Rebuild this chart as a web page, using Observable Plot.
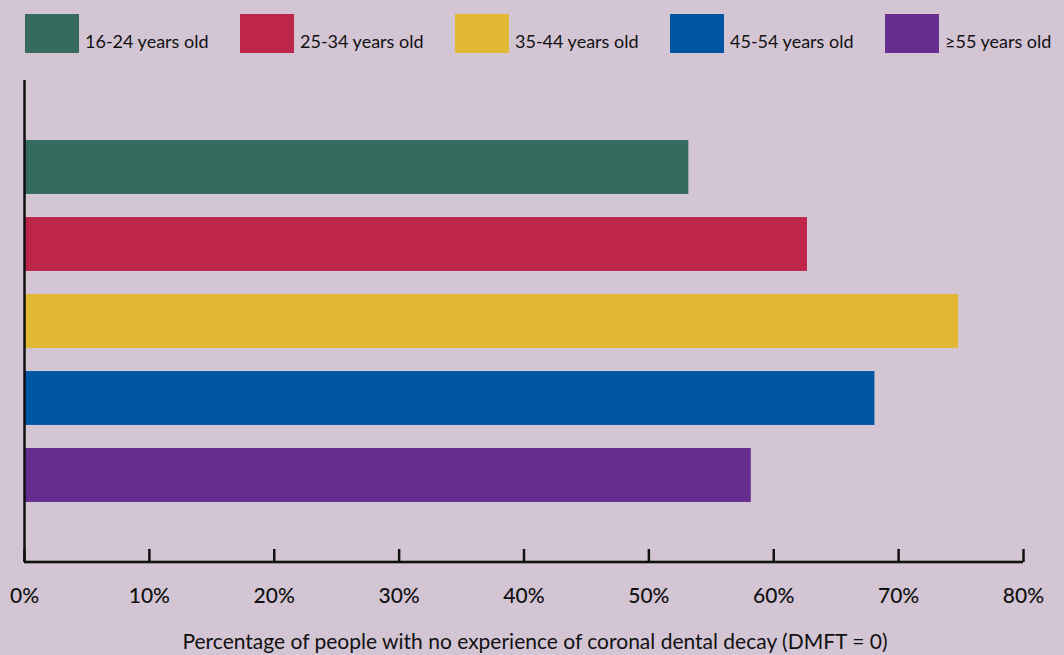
<!DOCTYPE html>
<html><head><meta charset="utf-8">
<script src="https://cdn.jsdelivr.net/npm/d3@7"></script>
<script src="https://cdn.jsdelivr.net/npm/@observablehq/plot@0.6"></script>
<style>
html,body{margin:0;padding:0;background:#d3c5d4;}
body{width:1064px;height:655px;overflow:hidden;font-family:Lato,"Open Sans",sans-serif;color:#111;}
#legend{height:66px;position:relative;}
.item{position:absolute;top:14px;display:flex;align-items:flex-end;white-space:nowrap;}
.sw{width:54px;height:39px;margin-right:6px;}
.lab{font-size:18px;line-height:1;padding-bottom:3px;}
#chart svg{display:block;}
</style></head><body>
<div id="legend"></div><div id="chart"></div>
<script>
const categories = ["16-24 years old", "25-34 years old", "35-44 years old", "45-54 years old", "≥55 years old"];
const values = [53.2, 62.7, 74.8, 68.1, 58.2];
const colors = ["#356a5e", "#bd254a", "#e1b833", "#0056a3", "#652d90"];
const tickValues = [0, 10, 20, 30, 40, 50, 60, 70, 80];
const axisTitle = "Percentage of people with no experience of coronal dental decay (DMFT = 0)";

const data = categories.map((c, i) => ({category: c, value: values[i]}));

const legend = document.getElementById("legend");
categories.forEach((c, i) => {
  const it = document.createElement("div");
  it.className = "item";
  it.style.left = (25 + i * 215) + "px";
  it.innerHTML = `<div class="sw" style="background:${colors[i]}"></div><div class="lab">${c}</div>`;
  legend.appendChild(it);
});

const plot = Plot.plot({
  width: 1064,
  height: 589,
  marginLeft: 24,
  marginRight: 41,
  marginTop: 14,
  marginBottom: 93,
  style: {background: "transparent", fontFamily: "Lato, 'Open Sans', sans-serif", color: "#111"},
  x: {domain: [0, 80], axis: null},
  y: {domain: categories, paddingInner: 0.3, paddingOuter: 0.78, round: false, axis: null},
  color: {domain: categories, range: colors},
  marks: [
    Plot.barX(data, {x: "value", y: "category", fill: "category"}),
    Plot.ruleX([0], {stroke: "#111", strokeWidth: 2.5}),
    Plot.ruleX(tickValues, {stroke: "#111", strokeWidth: 2.5, insetTop: 469}),
    Plot.rect([0], {x1: 0, x2: 80, fill: "#111", insetTop: 480.7, insetBottom: -1.3}),
    Plot.axisX({ticks: tickValues, tickSize: 0, tickPadding: 26, tickFormat: d => d + "%", fontSize: 21, fontWeight: 500, label: null}),
    Plot.text([axisTitle], {text: d => d, frameAnchor: "bottom", dx: 11, dy: 86, fontSize: 21, fontWeight: 400, fill: "#111", lineAnchor: "bottom"})
  ]
});
document.getElementById("chart").appendChild(plot);
</script>
</body></html>
